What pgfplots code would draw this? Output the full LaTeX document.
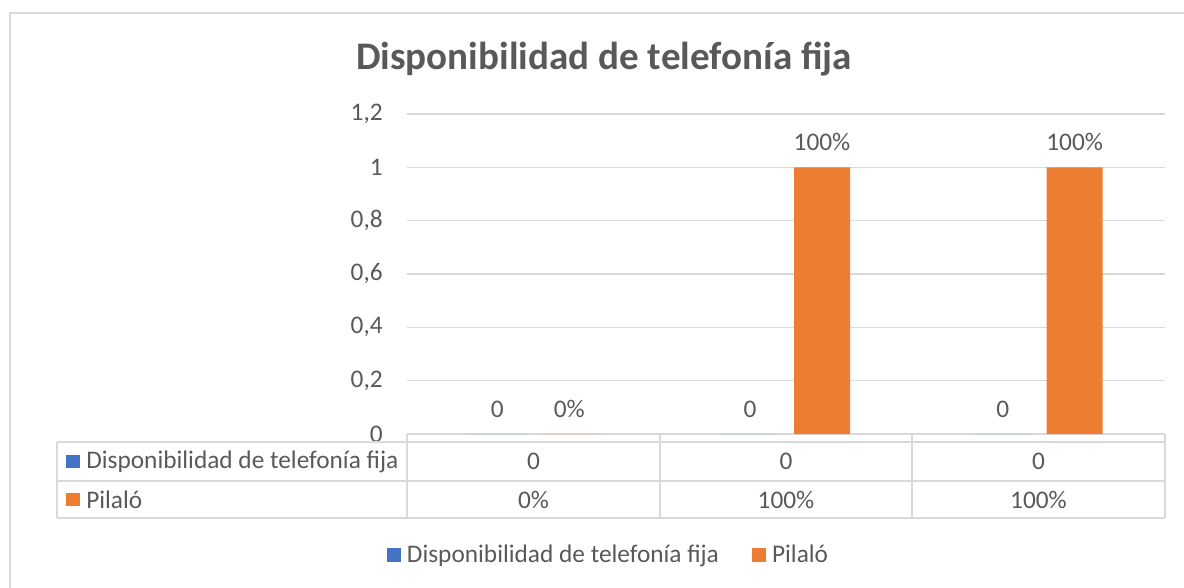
\documentclass[border=0pt]{standalone}
\usepackage{fontspec}
\setmainfont{Carlito}
\usepackage{pgfplots}
\pgfplotsset{compat=1.18}
\usepackage{pgfplotstable}
\definecolor{xblue}{HTML}{4472C4}
\definecolor{xorange}{HTML}{ED7D31}
\definecolor{txt}{HTML}{595959}
\definecolor{gridc}{HTML}{D9D9D9}

\pgfplotstableread{
x y lab
1 0 0
2 0 0
3 0 0
}\bluedata
\pgfplotstableread{
x y lab
1 0 0
2 1 100
3 1 100
}\orangedata

\newcommand\lbl{\fontsize{19}{22.8}\selectfont}
\begin{document}
\begin{tikzpicture}
\begin{scope}[x=0.75pt,y=-0.75pt]
\path[use as bounding box] (0,0) rectangle (1184,588);
% chart area border
\draw[gridc,line width=1.1pt] (10,590) -- (10,13) -- (1186,13);
% title
\node[font=\fontsize{29.3}{34}\selectfont\bfseries,text=txt] at (604,59.5) {Disponibilidad de telefonía fija};
\end{scope}

\begin{axis}[
  at={(305.25pt,-325.5pt)}, anchor=south west,
  scale only axis, width=568.5pt, height=240pt,
  xmin=0.5, xmax=3.5, ymin=0, ymax=1.2,
  ytick={0,0.2,0.4,0.6,0.8,1,1.2},
  xtick=\empty,
  axis line style={draw=none},
  ymajorgrids, grid style={gridc,line width=1.1pt},
  major tick length=0pt,
  /pgf/number format/use comma,
  /pgf/number format/assume math mode=true,
  yticklabel style={font=\lbl,text=txt,inner sep=0pt,xshift=-18pt},
  ybar, bar width=42pt,
  clip=false,
  point meta=explicit symbolic,
  every node near coord/.append style={font=\lbl,text=txt,anchor=base,yshift=16pt-\pgfkeysvalueof{/pgf/inner ysep}},
  legend columns=-1,
  legend style={at={(0.2665,-0.378)},anchor=center,draw=none,fill=none,font=\lbl,text=txt,
     /tikz/every even column/.append style={column sep=23pt}},
  legend image code/.code={\fill[#1] (0pt,-5pt) rectangle (10.5pt,5.5pt);\path (0pt,0pt) -- (12.75pt,0pt);},
]
\addplot[fill=xblue,draw=none,bar shift=-27pt,
  nodes near coords={\pgfplotspointmeta}]
  table[x=x,y=y,meta=lab]{\bluedata};
\addlegendentry{Disponibilidad de telefonía fija}
\addplot[fill=xorange,draw=none,bar shift=27pt,
  nodes near coords={\pgfplotspointmeta\%}]
  table[x=x,y=y,meta=lab]{\orangedata};
\addlegendentry{Pilaló}
\end{axis}

\begin{scope}[x=0.75pt,y=-0.75pt]
% data table
\draw[gridc,line width=1.1pt] (57,442) -- (1165,442);
\draw[gridc,line width=1.1pt] (57,481) -- (1165,481);
\draw[gridc,line width=1.1pt] (57,518) -- (1165,518);
\draw[gridc,line width=1.1pt] (57,442) -- (57,518);
\foreach \xx in {407,660,912,1165} {\draw[gridc,line width=1.1pt] (\xx,434) -- (\xx,518);}
\fill[xblue] (66,455) rectangle (80,468);
\node[anchor=west,font=\lbl,text=txt,inner sep=0pt] at (86,461.5) {Disponibilidad de telefonía fija};
\fill[xorange] (66,493) rectangle (80,506);
\node[anchor=west,font=\lbl,text=txt,inner sep=0pt] at (86,499.5) {Pilaló};
\foreach \cx in {533.5,786,1038.5} {\node[font=\lbl,text=txt] at (\cx,461.5) {0};}
\node[font=\lbl,text=txt] at (533.5,499.5) {0\%};
\node[font=\lbl,text=txt] at (786,499.5) {100\%};
\node[font=\lbl,text=txt] at (1038.5,499.5) {100\%};
\end{scope}
\end{tikzpicture}
\end{document}
